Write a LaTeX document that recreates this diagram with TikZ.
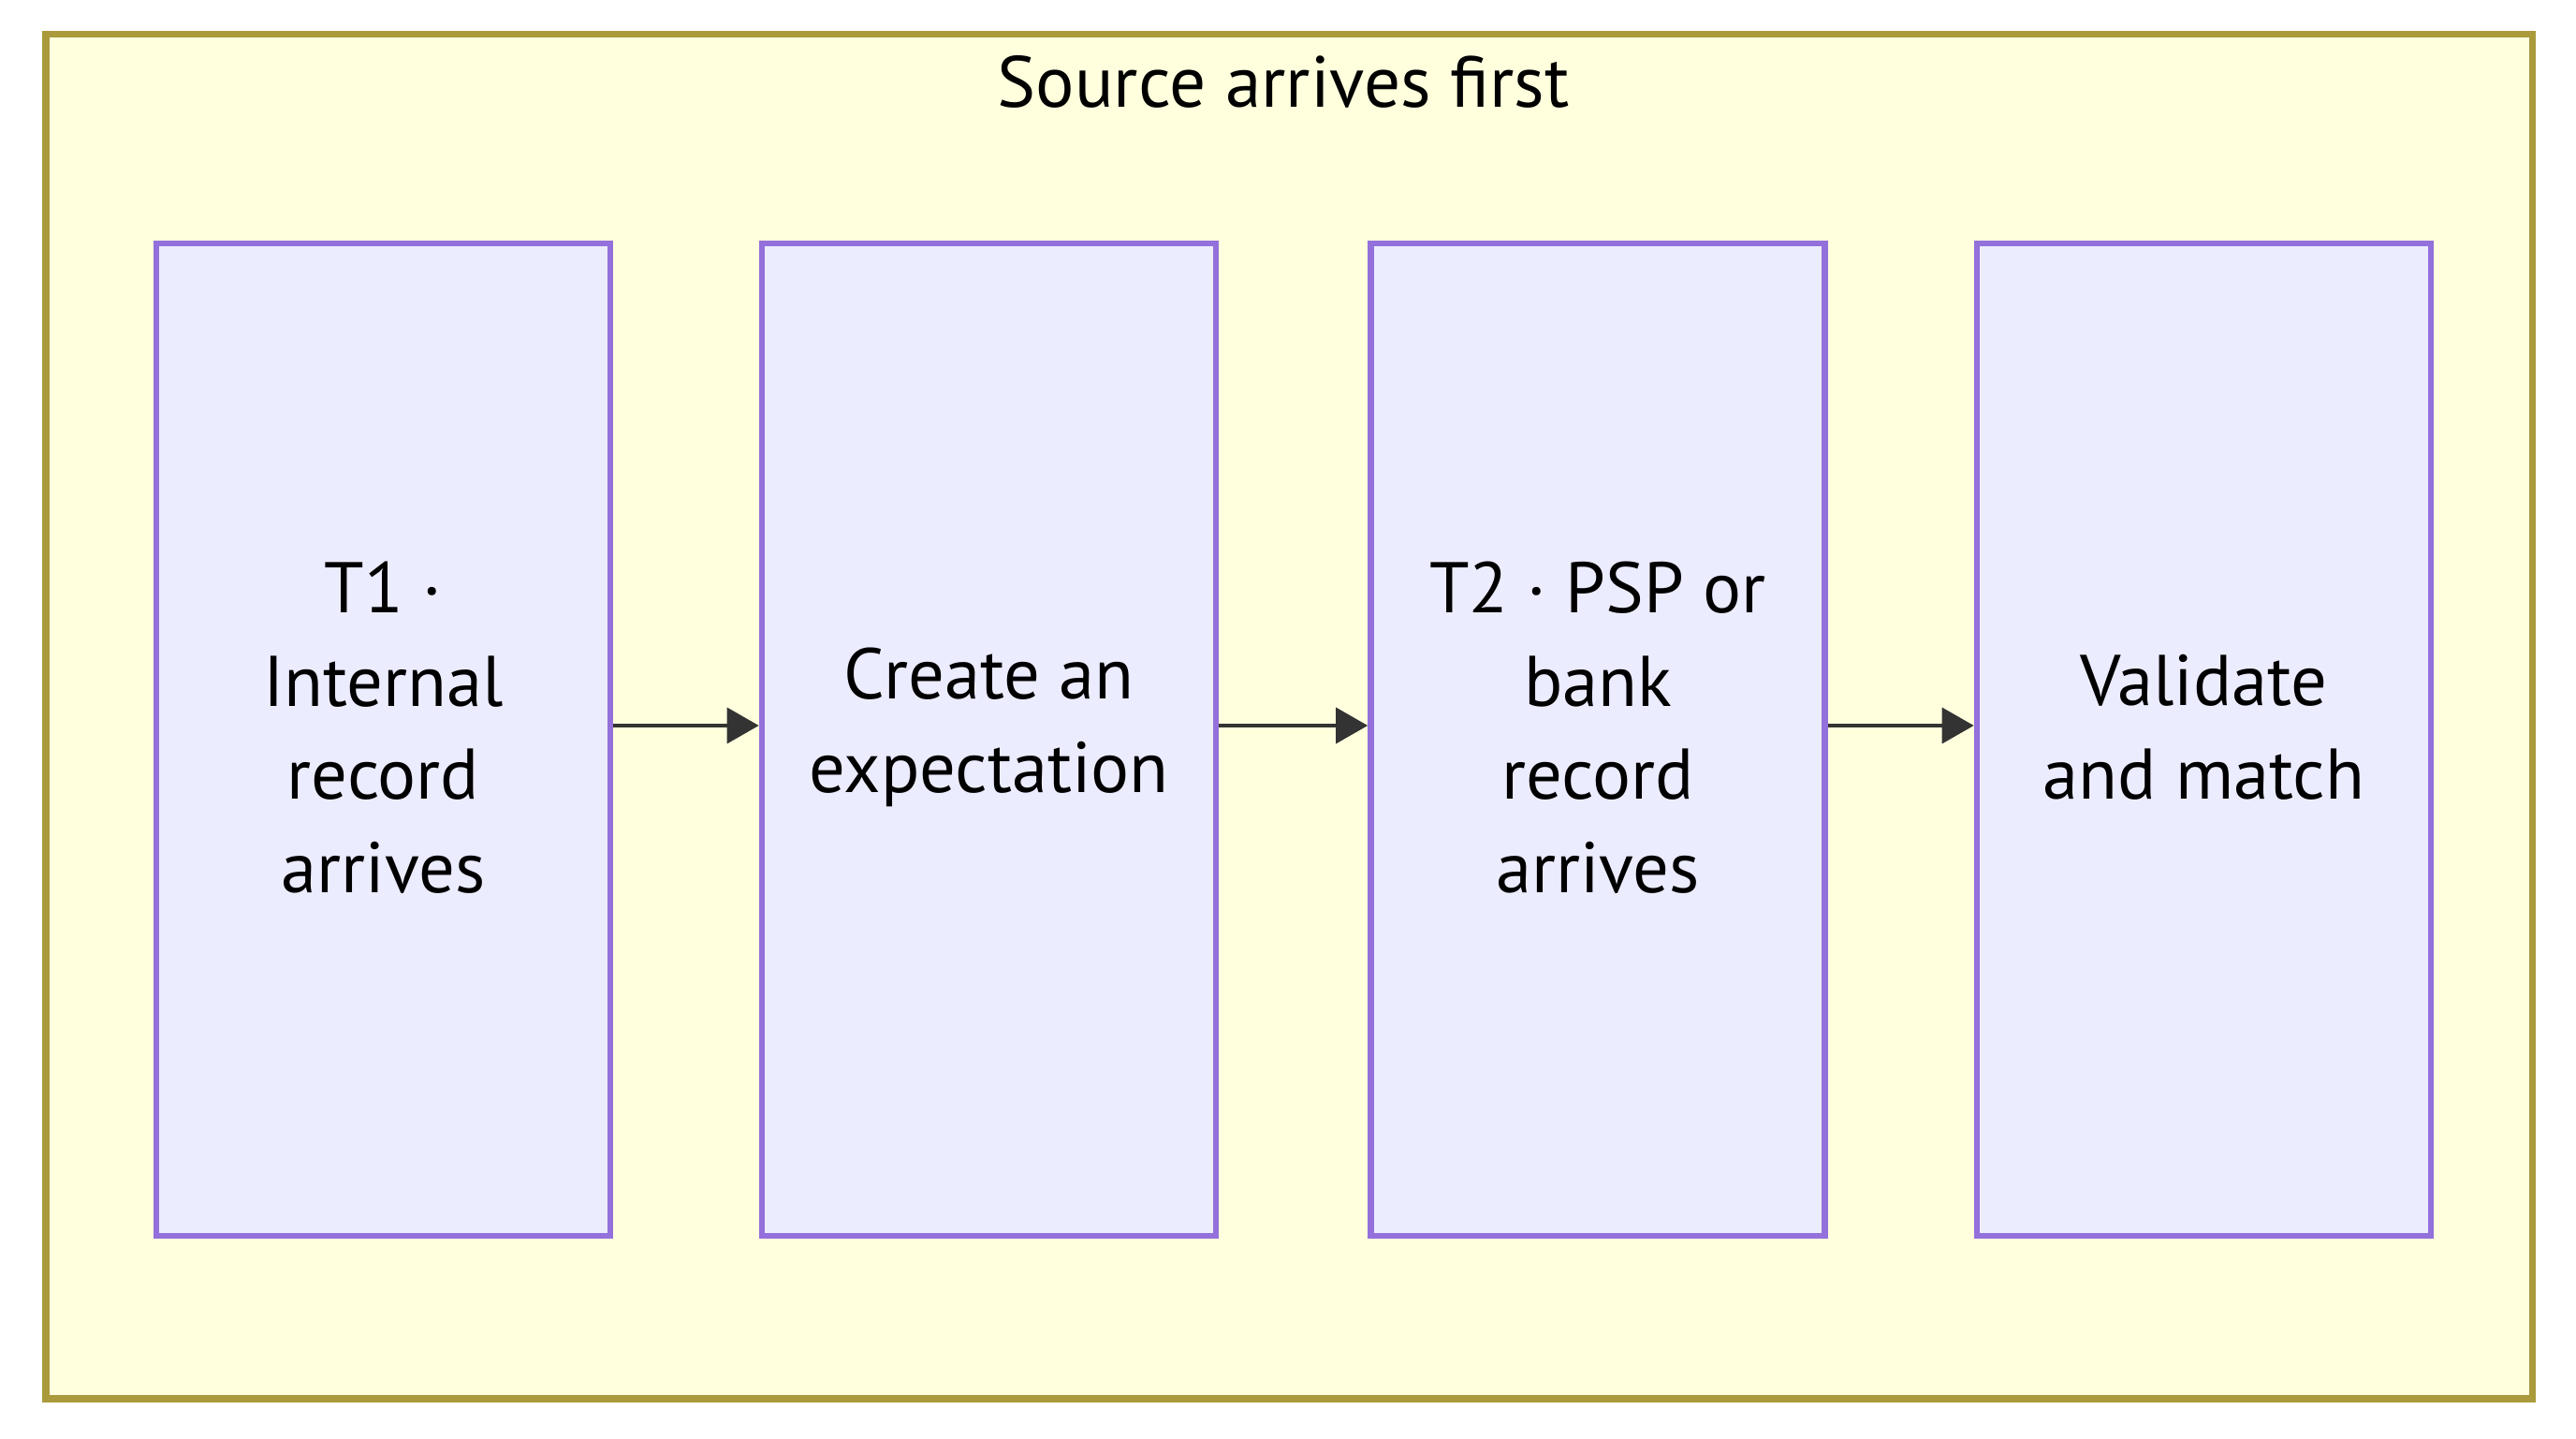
\documentclass[tikz,border=0pt]{standalone}
\usepackage{fontspec}
\setmainfont{PT Sans}
\usetikzlibrary{arrows.meta, positioning}

\definecolor{groupfill}{HTML}{FFFFDE}
\definecolor{groupline}{HTML}{AA9A3C}
\definecolor{stagefill}{HTML}{ECECFF}
\definecolor{stageline}{HTML}{9370DB}
\definecolor{flowline}{HTML}{333333}

\tikzset{
  stage/.style={draw=stageline, fill=stagefill, line width=1.9pt,
    minimum width=4.85cm, minimum height=10.6cm},
  stagetext/.style={align=center, yshift=0.13cm,
    font=\fontsize{21.8}{28.3}\selectfont, text=black},
  flow/.style={-{Triangle[length=0.34cm,width=0.38cm]}, draw=flowline,
    line width=1pt}
}

\begin{document}
\begin{tikzpicture}
\useasboundingbox (0,0) rectangle (27.52,15.36);

% Group frame
\node[draw=groupline, fill=groupfill, line width=2pt, minimum width=26.56cm,
  minimum height=14.57cm] (grp) at (13.77,7.705) {};
\node[font=\fontsize{22}{26}\selectfont] (title) at (13.71,14.49) {Source arrives first};

% Stages
\node[stage, label={[stagetext]center:T1 ·\\Internal\\record\\arrives}] (t1) at (4.095,7.46) {};
\node[stage, label={[stagetext]center:Create an\\expectation}] (exp) at (10.565,7.46) {};
\node[stage, label={[stagetext]center:T2 · PSP or\\bank\\record\\arrives}] (t2) at (17.07,7.46) {};
\node[stage, label={[stagetext]center:Validate\\and match}] (match) at (23.545,7.46) {};

\draw[flow] ([yshift=0.15cm]t1.east) -- ([yshift=0.15cm]exp.west);
\draw[flow] ([yshift=0.15cm]exp.east) -- ([yshift=0.15cm]t2.west);
\draw[flow] ([yshift=0.15cm]t2.east) -- ([yshift=0.15cm]match.west);

\end{tikzpicture}
\end{document}
